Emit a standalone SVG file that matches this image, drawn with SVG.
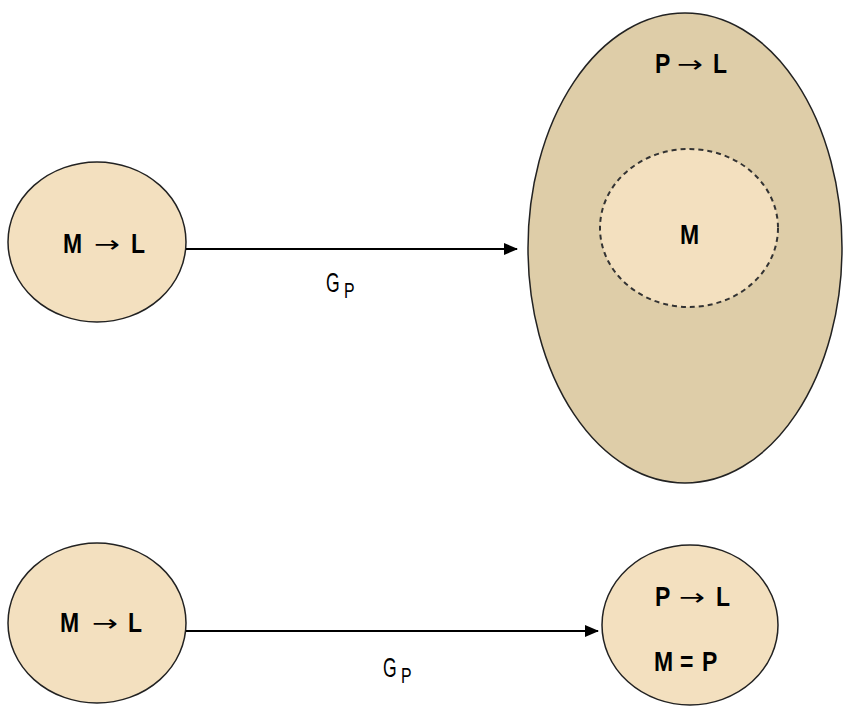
<svg xmlns="http://www.w3.org/2000/svg" width="843" height="707" viewBox="0 0 843 707">
<defs>
<style>
.node{fill:#F3E0BF;stroke:#222;stroke-width:1.5}
.big{fill:#DECDA8;stroke:#222;stroke-width:1.5}
.dash{fill:#F3E0BF;stroke:#333;stroke-width:2;stroke-dasharray:5,4}
.t{font-family:"Liberation Sans",Arial,sans-serif;font-weight:bold;font-size:28px;fill:#000}
.ar{font-family:"DejaVu Sans",sans-serif;font-weight:normal;font-size:23px;fill:#000}
.lbl{font-family:"Liberation Sans",Arial,sans-serif;font-size:27px;fill:#000}
.sub{font-family:"Liberation Sans",Arial,sans-serif;font-size:22px;fill:#000}
.edge{stroke:#000;stroke-width:1.8;fill:none}
</style>
<marker id="arr" markerWidth="14" markerHeight="14" refX="13" refY="7" orient="auto" markerUnits="userSpaceOnUse">
<path d="M0,1 L14,7 L0,13 Z" fill="#000"/>
</marker>
</defs>
<rect width="843" height="707" fill="#fff"/>
<g id="n1"><ellipse class="node" cx="97" cy="242" rx="89" ry="80"/>
<text class="t" transform="translate(63,253) scale(0.82,1)">M</text>
<text class="ar" transform="translate(94,252) scale(1.35,1)">→</text>
<text class="t" transform="translate(131,253) scale(0.82,1)">L</text></g>
<g id="n2"><ellipse class="big" cx="685" cy="248" rx="157" ry="235"/>
<text class="t" transform="translate(655,73) scale(0.82,1)">P</text>
<text class="ar" transform="translate(677,72) scale(1.35,1)">→</text>
<text class="t" transform="translate(713,73) scale(0.82,1)">L</text>
<ellipse class="dash" cx="689" cy="228" rx="89" ry="79"/>
<text class="t" transform="translate(680,244) scale(0.82,1)">M</text></g>
<g id="n3"><ellipse class="node" cx="97" cy="623" rx="89" ry="80"/>
<text class="t" transform="translate(60,632) scale(0.82,1)">M</text>
<text class="ar" transform="translate(92,631) scale(1.35,1)">→</text>
<text class="t" transform="translate(128,632) scale(0.82,1)">L</text></g>
<g id="n4"><ellipse class="node" cx="690" cy="625" rx="88" ry="80"/>
<text class="t" transform="translate(655,606) scale(0.82,1)">P</text>
<text class="ar" transform="translate(679,605) scale(1.35,1)">→</text>
<text class="t" transform="translate(716,606) scale(0.82,1)">L</text>
<text class="t" transform="translate(654,671) scale(0.82,1)">M</text>
<text class="t" transform="translate(680,671) scale(0.82,1)">=</text>
<text class="t" transform="translate(702,671) scale(0.82,1)">P</text></g>
<g id="edges">
<line class="edge" x1="186" y1="249" x2="517" y2="249" marker-end="url(#arr)"/>
<text class="lbl" transform="translate(326,292) scale(0.65,1)">G</text>
<text class="sub" transform="translate(344,298) scale(0.72,1)">P</text>
<line class="edge" x1="186" y1="631" x2="598" y2="631" marker-end="url(#arr)"/>
<text class="lbl" transform="translate(383,677) scale(0.65,1)">G</text>
<text class="sub" transform="translate(401,683) scale(0.72,1)">P</text>
</g>
</svg>
